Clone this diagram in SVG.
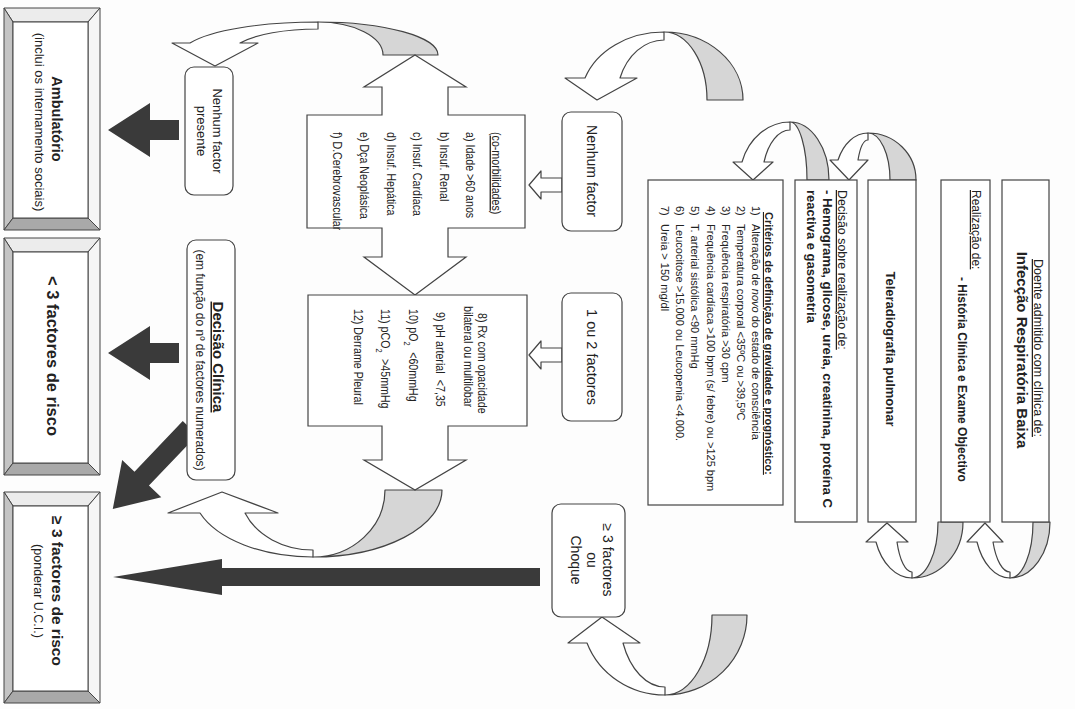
<svg xmlns="http://www.w3.org/2000/svg" width="1075" height="709" viewBox="0 0 1075 709">
<defs>
<style>
.t{font-family:"Liberation Sans",Arial,sans-serif;fill:#222;}
.b{font-weight:bold;}
.u{text-decoration:underline;}
.m{text-anchor:middle;}
.box{fill:#fff;stroke:#444;stroke-width:1.2;}
.gray{fill:#d6d6d6;stroke:#444;stroke-width:1.2;stroke-linejoin:round;}
.white{fill:#fff;stroke:#444;stroke-width:1.2;stroke-linejoin:round;}
.dark{fill:#3a3a3a;}
.bev{stroke:#444;stroke-width:1;}
</style>
</defs>
<rect width="1075" height="709" fill="#fdfdfd"/>

<g id="connectors">
  <g id="c-t2"><path class="white" d="M318,22 A137,33 0 0 0 190,43 L172,43 L215,66 L258,43 L240,43 A88,26 0 0 1 318,29 Z"/><path class="gray" d="M383,55 A65,33 0 0 0 318,22 A120,33 0 0 1 438,55 Z"/></g>
  <g id="c-t1"><path class="white" d="M664,32 A83.5,68 0 0 0 585,78 L565,78 L597,100 L637,78 L620,78 A47.3,60 0 0 1 664,40 Z"/><path class="gray" d="M707,100 A43,68 0 0 0 664,32 A79,68 0 0 1 743,100 Z"/></g>
  <g id="c-b1"><path class="white" d="M313,557 A120,67 0 0 1 200,513 L168,513 L222,492 L278,513 L245,513 A73.6,60 0 0 0 313,550 Z"/><path class="gray" d="M385,490 A72,67 0 0 1 313,557 A129,67 0 0 0 442,490 Z"/></g>
  <g id="c-b2"><path class="white" d="M665,695 A83.3,80 0 0 1 587,643 L568,643 L602,617 L640,643 L623,643 A45.6,72 0 0 0 665,687 Z"/><path class="gray" d="M712,615 A47,80 0 0 1 665,695 A82,80 0 0 0 747,615 Z"/></g>
  <g id="c-6a"><path class="white" d="M1010,578 A35.3,56 0 0 1 977,542 L967,542 L985,523 L1003,542 L993,542 A18.5,50 0 0 0 1010,572 Z"/><path class="gray" d="M1033,522 A23,56 0 0 1 1010,578 A40,56 0 0 0 1050,522 Z"/></g>
  <g id="c-6b"><path class="white" d="M912,578 A38.5,56 0 0 1 876,542 L866,542 L887,523 L908,542 L897,542 A16.4,50 0 0 0 912,572 Z"/><path class="gray" d="M938,522 A26,56 0 0 1 912,578 A51,56 0 0 0 963,522 Z"/></g>
  <g id="c-7a"><path class="white" d="M868,133 A33,47 0 0 0 838,160 L830,160 L849,180 L868,160 L858,160 A11.5,40 0 0 1 868,140 Z"/><path class="gray" d="M890,180 A22,47 0 0 0 868,133 A48,47 0 0 1 916,180 Z"/></g>
  <g id="c-7b"><path class="white" d="M790,122 A50.5,58 0 0 0 742,162 L733,162 L753,180 L773,162 L764,162 A27.9,50 0 0 1 790,130 Z"/><path class="gray" d="M807,180 A17,58 0 0 0 790,122 A39,58 0 0 1 829,180 Z"/></g>
  <polygon class="white" points="529,185 541,171 541,178 562,178 562,192 541,192 541,199"/>
  <polygon class="white" points="529,355 541,341 541,348 562,348 562,362 541,362 541,369"/>
  <polygon class="dark" points="108,130 150,103 150,120 179,120 179,140 150,140 150,157"/>
  <polygon class="dark" points="108,353 150,326 150,343 179,343 179,363 150,363 150,380"/>
  <polygon class="dark" transform="translate(190,428) rotate(133.6)" points="0,-10 70,-10 70,-27 112,0 70,27 70,10 0,10"/>
  <polygon class="dark" points="113,577 222,559 222,568 540,568 540,586 222,586 222,595"/>
</g>

<g id="n-doente">
  <rect class="box" x="1002" y="180" width="47" height="342"/>
  <text class="t u m" font-size="12.5" transform="translate(1034,348) rotate(90)">Doente admitido com clínica de:</text>
  <text class="t b m" font-size="15" transform="translate(1017,350) rotate(90)">Infecção Respiratória Baixa</text>
</g>
<g id="n-realizacao">
  <rect class="box" x="941" y="180" width="49" height="342"/>
  <text class="t u" font-size="12" transform="translate(972,190) rotate(90)">Realização de:</text>
  <text class="t b" font-size="12" transform="translate(958,277) rotate(90)">- História Clínica e Exame Objectivo</text>
</g>
<g id="n-telerx">
  <rect class="box" x="868" y="180" width="48" height="342"/>
  <text class="t b m" font-size="13" transform="translate(886,349) rotate(90)">Teleradiografia pulmonar</text>
</g>
<g id="n-analises">
  <rect class="box" x="795" y="180" width="62" height="342"/>
  <text class="t u" font-size="12.4" transform="translate(838,190) rotate(90)">Decisão sobre realização de:</text>
  <text class="t b" font-size="13.2" transform="translate(823,190) rotate(90)">- Hemograma, glicose, ureia, creatinina, proteína C</text>
  <text class="t b" font-size="13" transform="translate(807,190) rotate(90)">reactiva e gasometria</text>
</g>
<g id="n-criterios">
  <rect class="box" x="648" y="180" width="135" height="325"/>
  <text class="t b u" font-size="11" transform="translate(765,212) rotate(90)">Critérios de definição de gravidade e prognóstico:</text>
  <g font-size="11">
    <text class="t" transform="translate(752,206) rotate(90)">1)</text>
    <text class="t" transform="translate(752,224) rotate(90)">Alteração de <tspan font-style="italic">novo</tspan> do estado de consciência</text>
    <text class="t" transform="translate(737,206) rotate(90)">2)</text>
    <text class="t" transform="translate(737,224) rotate(90)">Temperatura corporal &lt;35ºC ou &gt;39,5ºC</text>
    <text class="t" transform="translate(722,206) rotate(90)">3)</text>
    <text class="t" transform="translate(722,224) rotate(90)">Frequência respiratória &gt;30 cpm</text>
    <text class="t" transform="translate(707,206) rotate(90)">4)</text>
    <text class="t" transform="translate(707,224) rotate(90)">Frequência cardíaca &gt;100 bpm (s/ febre) ou &gt;125 bpm</text>
    <text class="t" transform="translate(691,206) rotate(90)">5)</text>
    <text class="t" transform="translate(691,224) rotate(90)">T. arterial sistólica &lt;90 mmHg</text>
    <text class="t" transform="translate(676,206) rotate(90)">6)</text>
    <text class="t" transform="translate(676,224) rotate(90)">Leucocitose &gt;15.000 ou Leucopenia &lt;4.000.</text>
    <text class="t" transform="translate(661,206) rotate(90)">7)</text>
    <text class="t" transform="translate(661,224) rotate(90)">Ureia &gt; 150 mg/dl</text>
  </g>
</g>
<g id="n-nenhum">
  <rect class="box" x="562" y="112" width="60" height="119" rx="9"/>
  <text class="t m" font-size="14" transform="translate(587,171) rotate(90)">Nenhum factor</text>
</g>
<g id="n-1ou2">
  <rect class="box" x="562" y="293" width="60" height="128" rx="9"/>
  <text class="t m" font-size="14.5" transform="translate(587,357) rotate(90)">1 ou 2 factores</text>
</g>
<g id="n-3ouchoque">
  <rect class="box" x="552" y="504" width="73" height="113" rx="9"/>
  <text class="t m" font-size="14" transform="translate(603,560) rotate(90)">≥ 3 factores</text>
  <text class="t m" font-size="14" transform="translate(587,560) rotate(90)">ou</text>
  <text class="t m" font-size="14" transform="translate(571,560) rotate(90)">Choque</text>
</g>
<g id="n-comorb">
  <polygon class="box" points="415,55 466,87 448,87 448,115 525,115 525,228 448,228 448,257 466,257 415,295 364,257 382,257 382,228 307,228 307,115 382,115 382,87 364,87"/>
  <g font-size="13">
    <text class="t" transform="translate(492,132) rotate(90) scale(0.82,1)">(<tspan class="u">co-morbilidades</tspan>)</text>
    <text class="t" transform="translate(466,132) rotate(90) scale(0.82,1)">a) Idade &gt;60 anos</text>
    <text class="t" transform="translate(440,132) rotate(90) scale(0.82,1)">b) Insuf. Renal</text>
    <text class="t" transform="translate(413,132) rotate(90) scale(0.82,1)">c) Insuf. Cardíaca</text>
    <text class="t" transform="translate(387,132) rotate(90) scale(0.82,1)">d) Insuf. Hepática</text>
    <text class="t" transform="translate(360,132) rotate(90) scale(0.82,1)">e) Dça Neoplásica</text>
    <text class="t" transform="translate(333,132) rotate(90) scale(0.82,1)">f) D.Cerebrovascular</text>
  </g>
</g>
<g id="n-factores">
  <polygon class="box" points="308,295 527,295 527,426 448,426 448,460 466,460 415,490 364,460 382,460 382,426 308,426"/>
  <g font-size="13">
    <text class="t" transform="translate(478,313) rotate(90) scale(0.82,1)">8) Rx com opacidade</text>
    <text class="t" transform="translate(464,306) rotate(90) scale(0.82,1)">bilateral ou multilobar</text>
    <text class="t" transform="translate(436,312) rotate(90) scale(0.82,1)">9) pH arterial <tspan dx="4">&lt;7,35</tspan></text>
    <text class="t" transform="translate(409,309) rotate(90) scale(0.82,1)">10) pO<tspan font-size="9" baseline-shift="sub">2</tspan><tspan dx="8">&lt;60mmHg</tspan></text>
    <text class="t" transform="translate(381,309) rotate(90) scale(0.82,1)">11) pCO<tspan font-size="9" baseline-shift="sub">2</tspan><tspan dx="8">&gt;45mmHg</tspan></text>
    <text class="t" transform="translate(354,309) rotate(90) scale(0.82,1)">12) Derrame Pleural</text>
  </g>
</g>
<g id="n-nenhum-presente">
  <rect class="box" x="185" y="67" width="48" height="128" rx="9"/>
  <text class="t m" font-size="13" transform="translate(213,131) rotate(90)">Nenhum factor</text>
  <text class="t m" font-size="13" transform="translate(197,131) rotate(90)">presente</text>
</g>
<g id="n-decisao">
  <rect class="box" x="187" y="240" width="48" height="240" rx="9"/>
  <text class="t b u m" font-size="15" transform="translate(213,357) rotate(90)">Decisão Clínica</text>
  <text class="t m" font-size="12" transform="translate(196,360) rotate(90)">(em função do nº de factores numerados)</text>
</g>
<g id="n-ambulatorio">
  <polygon class="bev" fill="#ececec" points="4,8 100,8 88,22 13,22"/>
  <polygon class="bev" fill="#f6f6f6" points="100,8 100,230 88,218 88,22"/>
  <polygon class="bev" fill="#c4c4c4" points="4,8 13,22 13,218 4,230"/>
  <polygon class="bev" fill="#a9a9a9" points="4,230 13,218 88,218 100,230"/>
  <rect class="bev" fill="#fff" x="13" y="22" width="75" height="196"/>
  <text class="t b m" font-size="14.5" transform="translate(52,119) rotate(90)">Ambulatório</text>
  <text class="t m" font-size="13" transform="translate(35,122) rotate(90)">(inclui os internamento sociais)</text>
</g>
<g id="n-menos3">
  <polygon class="bev" fill="#ececec" points="4,238 100,238 88,252 13,252"/>
  <polygon class="bev" fill="#f6f6f6" points="100,238 100,475 88,463 88,252"/>
  <polygon class="bev" fill="#c4c4c4" points="4,238 13,252 13,463 4,475"/>
  <polygon class="bev" fill="#a9a9a9" points="4,475 13,463 88,463 100,475"/>
  <rect class="bev" fill="#fff" x="13" y="252" width="75" height="211"/>
  <text class="t b m" font-size="16.5" transform="translate(47,356) rotate(90)">&lt; 3 factores de risco</text>
</g>
<g id="n-mais3">
  <polygon class="bev" fill="#ececec" points="4,492 100,492 88,506 13,506"/>
  <polygon class="bev" fill="#f6f6f6" points="100,492 100,703 88,691 88,506"/>
  <polygon class="bev" fill="#c4c4c4" points="4,492 13,506 13,691 4,703"/>
  <polygon class="bev" fill="#a9a9a9" points="4,703 13,691 88,691 100,703"/>
  <rect class="bev" fill="#fff" x="13" y="506" width="75" height="185"/>
  <text class="t b m" font-size="15.5" transform="translate(52,591) rotate(90)">≥ 3 factores de risco</text>
  <text class="t m" font-size="12.5" transform="translate(34,591) rotate(90)">(ponderar U.C.I.)</text>
</g>
</svg>
